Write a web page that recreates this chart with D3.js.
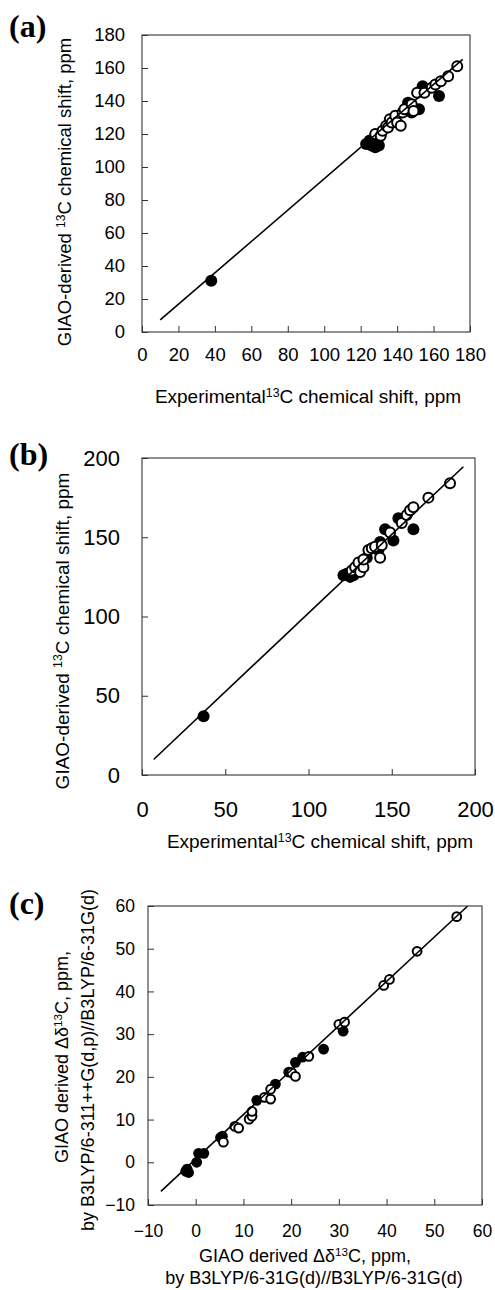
<!DOCTYPE html>
<html>
<head>
<meta charset="utf-8">
<script src="https://cdn.jsdelivr.net/npm/d3@7"></script>
<style>
  body { margin: 0; background: #fff; }
  svg { display: block; }
  text { font-family: "Liberation Sans", Arial, sans-serif; fill: #000; }
</style>
</head>
<body>
<svg id="svg" width="495" height="1290"></svg>
<script>
// ---- panel (a) ----
var aTicksX = [0, 20, 40, 60, 80, 100, 120, 140, 160, 180];
var aTicksY = [0, 20, 40, 60, 80, 100, 120, 140, 160, 180];
var aFilledX = [38, 123, 125, 126, 128, 130, 129, 146, 147, 148, 152, 154, 163];
var aFilledY = [31, 114, 116, 113, 112, 113, 116, 139, 136, 133, 135, 149, 143];
var aOpenX = [128, 131, 132, 134, 135, 136, 137, 139, 140, 142, 143, 144, 148, 149, 151, 155, 159, 161, 164, 168, 173];
var aOpenY = [120, 119, 122, 125, 124, 129, 127, 131, 127, 125, 133, 135, 138, 134, 145, 145, 148, 150, 152, 155, 161];
var aFitX = [10, 176];
var aFitY = [7.3, 165.2];

// ---- panel (b) ----
var bTicksX = [0, 50, 100, 150, 200];
var bTicksY = [0, 50, 100, 150, 200];
var bFilledX = [37, 121, 123, 125, 127, 128, 135, 142, 143, 146, 151, 154, 163];
var bFilledY = [37, 126, 127, 125, 126, 129, 137, 142, 147, 155, 148, 162, 155];
var bOpenX = [126, 128, 130, 131, 133, 133, 136, 138, 140, 143, 144, 149, 156, 159, 161, 163, 172, 185];
var bOpenY = [129, 131, 134, 128, 131, 136, 142, 143, 144, 137, 145, 153, 159, 164, 167, 169, 175, 184];
var bFitX = [7, 193];
var bFitY = [9.8, 194.5];

// ---- panel (c) ----
var cTicksX = [-10, 0, 10, 20, 30, 40, 50, 60];
var cTicksY = [-10, 0, 10, 20, 30, 40, 50, 60];
var cFilledX = [-2.1, -1.8, -1.5, 0.2, 0.6, 1.7, 5.2, 5.6, 12.8, 16.7, 19.5, 20.9, 22.4, 26.8, 30.9];
var cFilledY = [-2.1, -1.6, -2.4, 0, 2.1, 2.1, 5.8, 6.1, 14.5, 18.3, 21.1, 23.4, 24.6, 26.5, 30.7];
var cOpenX = [5.8, 8.2, 9.0, 11.2, 11.8, 11.8, 14.4, 15.7, 15.7, 20.1, 20.9, 23.7, 30.0, 31.2, 39.4, 40.6, 46.4, 54.7];
var cOpenY = [4.7, 8.4, 8.0, 10.1, 10.8, 11.9, 15.2, 14.8, 17.1, 21.0, 20.1, 24.8, 32.3, 32.8, 41.4, 42.8, 49.4, 57.5];
var cFitX = [-7.3, 57];
var cFitY = [-6.8, 60];

var svg = d3.select("#svg");

// text with a superscript "13" in the middle
function supText(sel, before, sup, after) {
  sel.append("tspan").text(before);
  sel.append("tspan").attr("font-size", "0.65em").attr("dy", "-0.5em").text(sup);
  sel.append("tspan").attr("dy", "0.325em").text(after);
}

function drawPanel(o) {
  var g = svg.append("g");
  var x = d3.scaleLinear().domain(o.xDomain).range([o.left, o.right]);
  var y = d3.scaleLinear().domain(o.yDomain).range([o.bottom, o.top]);

  // points first, fit line over them
  var open = o.openX.map(function(d, i) { return [d, o.openY[i]]; });
  var filled = o.filledX.map(function(d, i) { return [d, o.filledY[i]]; });

  g.selectAll("circle.filled").data(filled).enter().append("circle")
    .attr("class", "filled")
    .attr("cx", function(d) { return x(d[0]); })
    .attr("cy", function(d) { return y(d[1]); })
    .attr("r", o.r + 1)
    .attr("fill", "#000");

  g.selectAll("circle.open").data(open).enter().append("circle")
    .attr("class", "open")
    .attr("cx", function(d) { return x(d[0]); })
    .attr("cy", function(d) { return y(d[1]); })
    .attr("r", o.r)
    .attr("fill", "#fff")
    .attr("stroke", "#000")
    .attr("stroke-width", 2);

  var fit = o.fitX.map(function(d, i) { return [d, o.fitY[i]]; });
  g.append("path")
    .datum(fit)
    .attr("d", d3.line().x(function(d) { return x(d[0]); }).y(function(d) { return y(d[1]); }))
    .attr("stroke", "#000")
    .attr("stroke-width", 1.6)
    .attr("fill", "none");

  // axes with inward ticks
  var xAxis = g.append("g")
    .attr("transform", "translate(0," + o.bottom + ")")
    .call(d3.axisBottom(x).tickValues(o.ticksX).tickSizeInner(-6).tickSizeOuter(0).tickPadding(o.xPad));
  var yAxis = g.append("g")
    .attr("transform", "translate(" + o.left + ",0)")
    .call(d3.axisLeft(y).tickValues(o.ticksY).tickSizeInner(-6).tickSizeOuter(0).tickPadding(o.yPad));

  [xAxis, yAxis].forEach(function(a) {
    a.select(".domain").remove();
    a.attr("font-family", null).attr("font-size", null);
    a.selectAll("line").attr("stroke", "#333");
    a.selectAll("text").attr("font-size", o.tickFont).attr("fill", "#000");
  });

  g.append("rect")
    .attr("x", o.left).attr("y", o.top)
    .attr("width", o.right - o.left).attr("height", o.bottom - o.top)
    .attr("fill", "none").attr("stroke", "#333").attr("stroke-width", 1.1);

  // panel letter
  g.append("text")
    .attr("x", o.labelX).attr("y", o.labelY)
    .attr("font-weight", "bold").attr("font-size", 32)
    .style("font-family", "'Liberation Serif', 'Times New Roman', serif")
    .text(o.label);

  return g;
}

var ga = drawPanel({
  xDomain: [0, 180], yDomain: [0, 180], left: 142, right: 470, top: 35, bottom: 332,
  ticksX: aTicksX, ticksY: aTicksY, filledX: aFilledX, filledY: aFilledY,
  openX: aOpenX, openY: aOpenY, fitX: aFitX, fitY: aFitY,
  r: 5, tickFont: 18.5, xPad: 16, yPad: 17, label: "(a)", labelX: 9, labelY: 37
});
supText(ga.append("text").attr("x", 308).attr("y", 403).attr("text-anchor", "middle").attr("font-size", 19),
  "Experimental", "13", "C chemical shift, ppm");
supText(ga.append("text").attr("transform", "translate(65,192) rotate(-90)").attr("dy", "0.35em")
  .attr("text-anchor", "middle").attr("font-size", 18.5),
  "GIAO-derived ", "13", "C chemical shift, ppm");

var gb = drawPanel({
  xDomain: [0, 200], yDomain: [0, 200], left: 142, right: 475, top: 458, bottom: 775,
  ticksX: bTicksX, ticksY: bTicksY, filledX: bFilledX, filledY: bFilledY,
  openX: bOpenX, openY: bOpenY, fitX: bFitX, fitY: bFitY,
  r: 5, tickFont: 22, xPad: 26, yPad: 22, label: "(b)", labelX: 9, labelY: 465
});
supText(gb.append("text").attr("x", 320).attr("y", 848).attr("text-anchor", "middle").attr("font-size", 19),
  "Experimental", "13", "C chemical shift, ppm");
supText(gb.append("text").attr("transform", "translate(62,631) rotate(-90)").attr("dy", "0.35em")
  .attr("text-anchor", "middle").attr("font-size", 19),
  "GIAO-derived ", "13", "C chemical shift, ppm");

var gc = drawPanel({
  xDomain: [-10, 60], yDomain: [-10, 60], left: 148, right: 482, top: 906, bottom: 1205,
  ticksX: cTicksX, ticksY: cTicksY, filledX: cFilledX, filledY: cFilledY,
  openX: cOpenX, openY: cOpenY, fitX: cFitX, fitY: cFitY,
  r: 4.4, tickFont: 17.5, xPad: 20, yPad: 13, label: "(c)", labelX: 9, labelY: 914
});
supText(gc.append("text").attr("x", 305).attr("y", 1262).attr("text-anchor", "middle").attr("font-size", 18),
  "GIAO derived \u0394\u03b4", "13", "C, ppm,");
gc.append("text").attr("x", 314).attr("y", 1284).attr("text-anchor", "middle").attr("font-size", 18)
  .text("by B3LYP/6-31G(d)//B3LYP/6-31G(d)");
supText(gc.append("text").attr("transform", "translate(62,1057) rotate(-90)").attr("dy", "0.35em")
  .attr("text-anchor", "middle").attr("font-size", 18),
  "GIAO derived \u0394\u03b4", "13", "C, ppm,");
gc.append("text").attr("transform", "translate(88,1060) rotate(-90)").attr("dy", "0.35em")
  .attr("text-anchor", "middle").attr("font-size", 18)
  .text("by B3LYP/6-311++G(d,p)//B3LYP/6-31G(d)");
</script>
</body>
</html>
